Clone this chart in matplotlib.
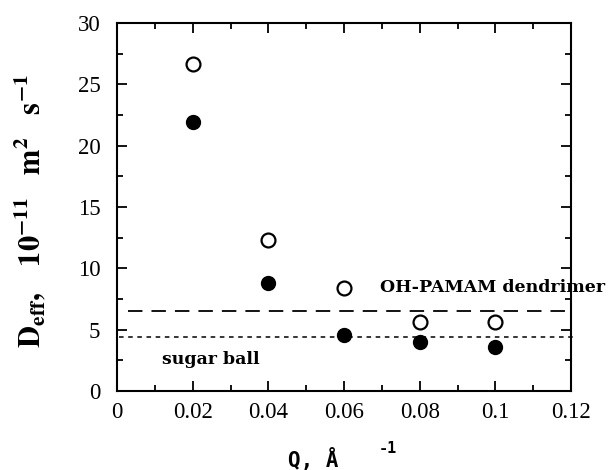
import matplotlib
matplotlib.use("Agg")
import matplotlib.pyplot as plt
from matplotlib.ticker import MultipleLocator

plt.rcParams['mathtext.fontset'] = 'stix'

q = [0.02, 0.04, 0.06, 0.08, 0.10]
d_open = [26.7, 12.3, 8.4, 5.6, 5.6]
d_filled = [21.9, 8.8, 4.6, 4.0, 3.6]
dendrimer_level = 6.5
sugar_level = 4.4
dendrimer_x = [0.003, 0.12]
sugar_x = [0.0005, 0.1205]

fig = plt.figure(figsize=(6.16, 4.70), dpi=100)
ax = fig.add_axes([0.19, 0.168, 0.737, 0.783])

ax.plot(q, d_open, 'o', ms=10, mfc='white', mec='black', mew=1.6, ls='none')
ax.plot(q, d_filled, 'o', ms=10, mfc='black', mec='black', ls='none')
ax.plot(dendrimer_x, [dendrimer_level]*2, color='black', lw=1.3, dashes=(8, 5), clip_on=False)
ax.plot(sugar_x, [sugar_level]*2, color='black', lw=1.1, dashes=(3, 3), clip_on=False)

ax.text(0.0695, 8.4, 'OH-PAMAM dendrimer', fontsize=12.5, fontweight='bold',
        family='DejaVu Serif', va='center', ha='left', clip_on=False)
ax.text(0.012, 2.6, 'sugar ball', fontsize=12.5, fontweight='bold',
        family='DejaVu Serif', va='center', ha='left')

ax.set_xlim(0, 0.12)
ax.set_ylim(0, 30)
ax.xaxis.set_major_locator(MultipleLocator(0.02))
ax.xaxis.set_minor_locator(MultipleLocator(0.01))
ax.yaxis.set_major_locator(MultipleLocator(5))
ax.yaxis.set_minor_locator(MultipleLocator(2.5))
ax.set_xticks([0, 0.02, 0.04, 0.06, 0.08, 0.10, 0.12])
ax.set_xticklabels(['0', '0.02', '0.04', '0.06', '0.08', '0.1', '0.12'])
ax.tick_params(which='both', direction='in', top=True, right=True, width=1.3)
ax.tick_params(which='major', length=7, labelsize=16.5)
ax.tick_params(axis='y', which='major', pad=12)
ax.tick_params(axis='x', which='major', pad=8)
ax.tick_params(which='minor', length=4)
for lab in ax.get_xticklabels() + ax.get_yticklabels():
    lab.set_family('Liberation Serif')
for s in ax.spines.values():
    s.set_linewidth(1.5)

fig.text(0.049, 0.55, r'$\mathbf{D_{eff},\ \ \ 10^{-11}\ \ \ m^{2}\ \ \ s^{-1}}$',
         rotation=90, fontsize=22, ha='center', va='center')
fig.text(0.508, 0.0064, 'Q, Å', fontsize=15, fontweight='bold', family='DejaVu Sans Mono',
         ha='center', va='baseline')
fig.text(0.63, 0.045, '-1', fontsize=11, fontweight='bold', family='DejaVu Sans Mono',
         ha='center', va='center')

fig.savefig('out.png', dpi=100)
